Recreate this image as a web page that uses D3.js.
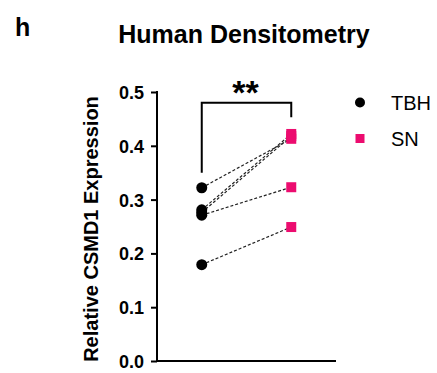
<!DOCTYPE html>
<html>
<head>
<meta charset="utf-8">
<script src="https://cdn.jsdelivr.net/npm/d3@7"></script>
<style>
  body { margin: 0; background: #fff; }
  svg { font-family: Arial, "Liberation Sans", Helvetica, sans-serif; }
</style>
</head>
<body>
<svg id="chart" width="437" height="373"></svg>
<script>
// data
const groups = ['TBH', 'SN'];
const tbhValues = [0.322, 0.281, 0.276, 0.271, 0.179];
const snValues = [0.413, 0.422, 0.418, 0.323, 0.249];
const yTicks = [0.0, 0.1, 0.2, 0.3, 0.4, 0.5];
const bracketLevels = [0.35, 0.48, 0.453]; // left foot, top, right foot
const sigLabel = '**';

const pink = '#EC0C6F';

const svg = d3.select('#chart');

let x = d3.scalePoint().domain(groups).range([157, 336]).padding(0.5);
let y = d3.scaleLinear().domain([0, 0.5]).range([361, 92]);

// panel letter + title
svg.append('text').text('h')
  .attr('x', 15).attr('y', 36)
  .style('font-size', '25px').style('font-weight', 'bold');

svg.append('text').text('Human Densitometry')
  .attr('x', 244).attr('y', 43)
  .attr('text-anchor', 'middle')
  .style('font-size', '25px').style('font-weight', 'bold');

/////// axes ///////
let yAxis = svg.append('g').attr('transform', 'translate(157,0)')
  .call(d3.axisLeft(y).tickValues(yTicks).tickFormat(d3.format('.1f')).tickSize(6).tickSizeOuter(0));
yAxis.select('.domain').attr('stroke-width', 2).attr('d', 'M0,' + (y(0.5) - 1) + 'V' + (y(0) + 1));
yAxis.selectAll('.tick line').attr('stroke-width', 2);
yAxis.selectAll('.tick text')
  .attr('x', -13).attr('dy', '0.36em')
  .style('font-size', '18px').style('font-weight', 'bold')
  .style('font-family', 'Arial, "Liberation Sans", sans-serif');

svg.append('line')
  .attr('x1', 156).attr('x2', 336)
  .attr('y1', y(0)).attr('y2', y(0))
  .attr('stroke', '#000').attr('stroke-width', 2);

svg.append('text').text('Relative CSMD1 Expression')
  .attr('transform', 'translate(97.5,' + 229 + ') rotate(-90)')
  .attr('text-anchor', 'middle')
  .style('font-size', '20px').style('font-weight', 'bold');

/////// paired lines ///////
let pairs = tbhValues.map((v, i) => ({ before: v, after: snValues[i] }));

svg.append('g').selectAll('line').data(pairs).enter().append('line')
  .attr('x1', x('TBH')).attr('x2', x('SN'))
  .attr('y1', d => y(d.before)).attr('y2', d => y(d.after))
  .attr('stroke', '#222').attr('stroke-width', 1.2)
  .attr('stroke-dasharray', '3,2');

svg.append('g').selectAll('circle').data(tbhValues).enter().append('circle')
  .attr('cx', x('TBH')).attr('cy', d => y(d)).attr('r', 5.5)
  .attr('fill', '#000');

const sq = 10;
svg.append('g').selectAll('rect').data(snValues).enter().append('rect')
  .attr('x', x('SN') - sq / 2).attr('y', d => y(d) - sq / 2)
  .attr('width', sq).attr('height', sq)
  .attr('fill', pink);

/////// significance bracket ///////
let bracket = d3.line()
  .x(d => x(d[0]))
  .y(d => y(d[1]));
svg.append('path')
  .attr('d', bracket([['TBH', bracketLevels[0]], ['TBH', bracketLevels[1]], ['SN', bracketLevels[1]], ['SN', bracketLevels[2]]]))
  .attr('fill', 'none').attr('stroke', '#000').attr('stroke-width', 2);

svg.append('text').text(sigLabel)
  .attr('x', (x('TBH') + x('SN')) / 2 - 1).attr('y', 104)
  .attr('text-anchor', 'middle')
  .style('font-size', '34px').style('font-weight', 'bold');

/////// legend ///////
let legend = svg.append('g').attr('transform', 'translate(360,0)');
legend.append('circle').attr('cx', 0).attr('cy', 102.5).attr('r', 5).attr('fill', '#000');
legend.append('rect').attr('x', -4.5).attr('y', 134).attr('width', 9).attr('height', 9).attr('fill', pink);
legend.append('text').text('TBH').attr('x', 31).attr('y', 109.5).style('font-size', '20px');
legend.append('text').text('SN').attr('x', 31).attr('y', 145.5).style('font-size', '20px');
</script>
</body>
</html>
